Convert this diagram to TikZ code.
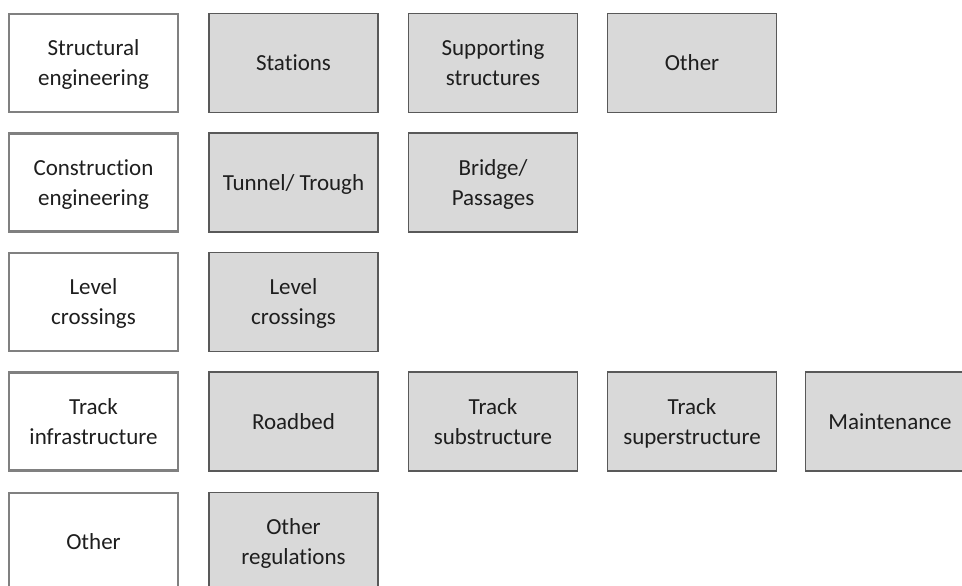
\documentclass[tikz,border=0pt]{standalone}
\usepackage{fontspec}
\setmainfont{Carlito}[Ligatures=NoCommon]
\definecolor{leftborder}{HTML}{808080}
\definecolor{boxborder}{HTML}{595959}
\definecolor{boxfill}{HTML}{D9D9D9}
\definecolor{txt}{HTML}{1E1E1E}
\tikzset{
  boxbase/.style={align=center, text=txt, font=\fontsize{23}{30}\selectfont, inner sep=0pt,
    text depth=0pt, execute at begin node={\rule{0pt}{15pt}}},
  catbox/.style={boxbase, draw=leftborder, line width=2.6pt, fill=white, minimum width=169pt, minimum height=98pt},
  itembox/.style={boxbase, draw=boxborder, line width=1.3pt, fill=boxfill, minimum width=169pt, minimum height=99pt}
}
\begin{document}
\begin{tikzpicture}[x=1pt,y=-1pt]
\useasboundingbox (0,0) rectangle (962,586);
\clip (0,0) rectangle (962,586);
% left category column
\node[catbox] (c1) at (93.5,63) {Structural\\engineering};
\node[catbox] (c2) at (93.5,182.5) {Construction\\engineering};
\node[catbox] (c3) at (93.5,302) {Level\\crossings};
\node[catbox] (c4) at (93.5,421.5) {Track\\infrastructure};
\node[catbox] (c5) at (93.5,542) {Other};
% row 1
\node[itembox] (r1a) at (293.5,63) {Stations};
\node[itembox] (r1b) at (493,63) {Supporting\\structures};
\node[itembox] (r1c) at (692,63) {Other};
% row 2
\node[itembox] (r2a) at (293.5,182.5) {Tunnel/ Trough};
\node[itembox] (r2b) at (493,182.5) {Bridge/\\Passages};
% row 3
\node[itembox] (r3a) at (293.5,302) {Level\\crossings};
% row 4
\node[itembox] (r4a) at (293.5,421.5) {Roadbed};
\node[itembox] (r4b) at (493,421.5) {Track\\substructure};
\node[itembox] (r4c) at (692,421.5) {Track\\superstructure};
\node[itembox] (r4d) at (890,421.5) {Maintenance};
% row 5
\node[itembox] (r5a) at (293.5,542) {Other\\regulations};
\end{tikzpicture}
\end{document}
